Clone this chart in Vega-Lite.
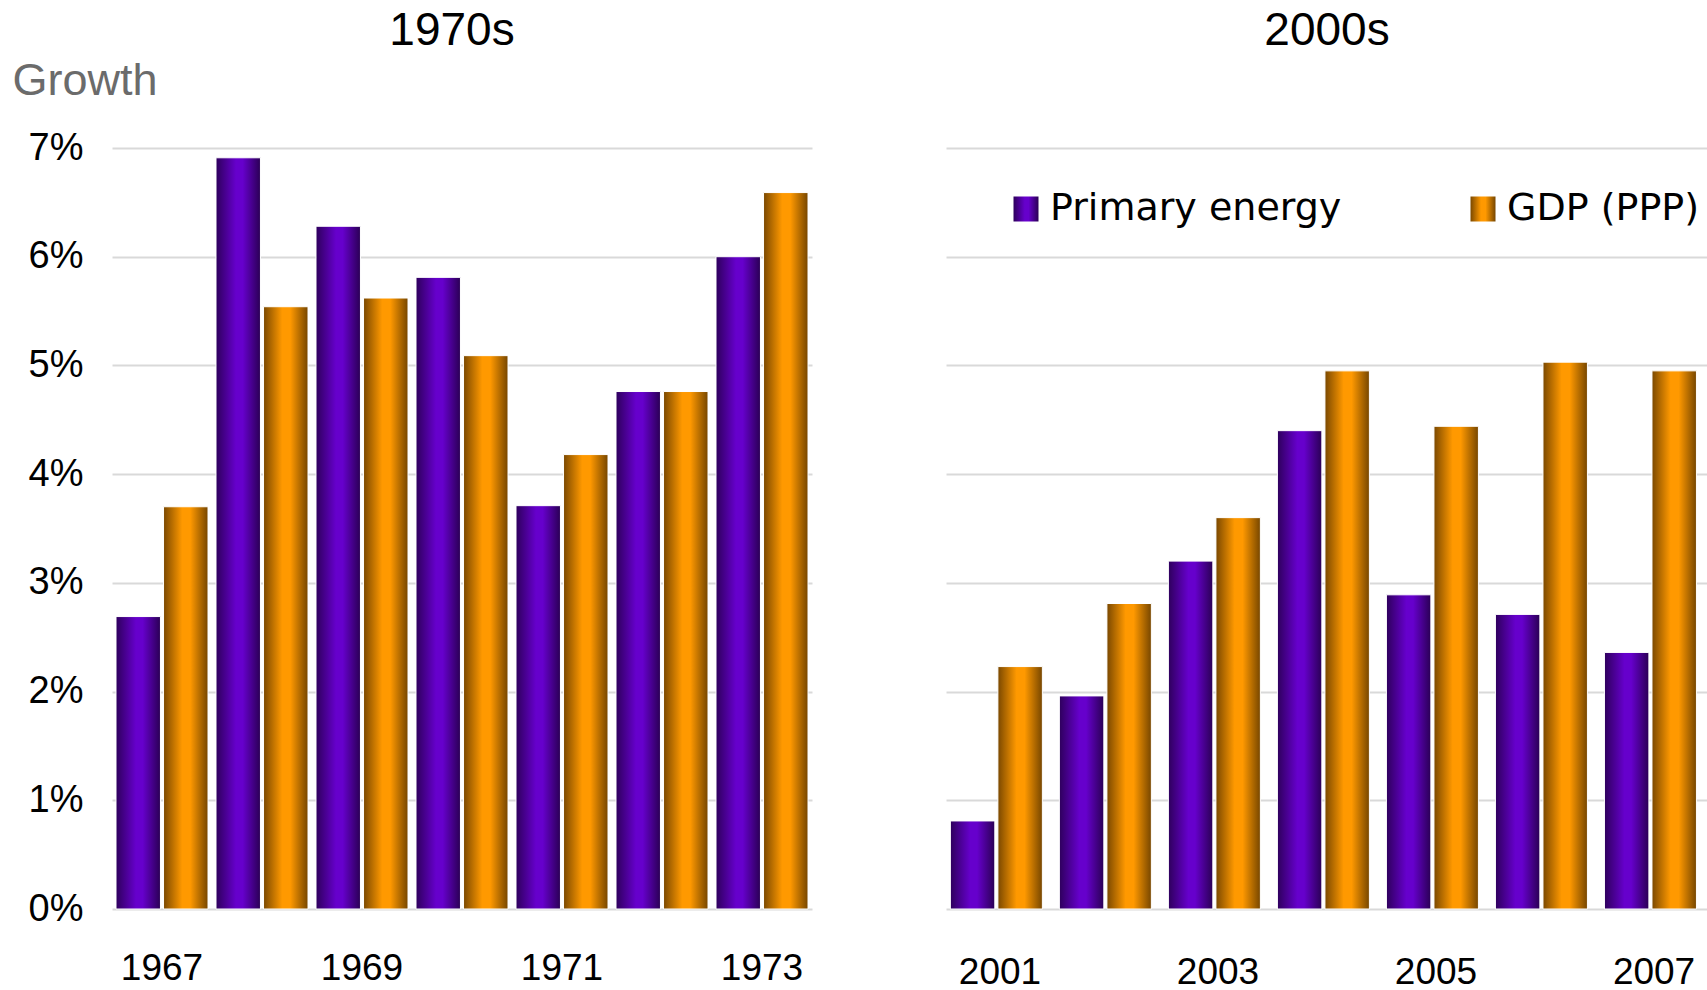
{
  "$schema": "https://vega.github.io/schema/vega-lite/v6.json",
  "autosize": {"type": "pad"},
  "padding": {"left": 12, "top": 8, "right": 0, "bottom": 0},
  "background": "white",
  "config": {
    "font": "Liberation Sans",
    "view": {"stroke": null},
    "axis": {"domain": false, "ticks": false, "labelColor": "black", "labelFontSize": 37, "labelFont": "Liberation Sans"},
    "title": {"font": "Liberation Sans", "fontSize": 46, "fontWeight": "normal", "color": "black", "anchor": "middle"}
  },
  "resolve": {"scale": {"color": "independent"}, "legend": {"color": "independent"}},
  "spacing": 134,
  "hconcat": [
    {
      "title": {"text": "1970s", "offset": 3, "dx": -10},
      "width": 700,
      "height": 761,
      "data": {"values": [
        {"year": 1967, "series": "Primary energy", "growth": 2.69},
        {"year": 1967, "series": "GDP (PPP)", "growth": 3.70},
        {"year": 1968, "series": "Primary energy", "growth": 6.91},
        {"year": 1968, "series": "GDP (PPP)", "growth": 5.54},
        {"year": 1969, "series": "Primary energy", "growth": 6.28},
        {"year": 1969, "series": "GDP (PPP)", "growth": 5.62},
        {"year": 1970, "series": "Primary energy", "growth": 5.81},
        {"year": 1970, "series": "GDP (PPP)", "growth": 5.09},
        {"year": 1971, "series": "Primary energy", "growth": 3.71},
        {"year": 1971, "series": "GDP (PPP)", "growth": 4.18},
        {"year": 1972, "series": "Primary energy", "growth": 4.76},
        {"year": 1972, "series": "GDP (PPP)", "growth": 4.76},
        {"year": 1973, "series": "Primary energy", "growth": 6.00},
        {"year": 1973, "series": "GDP (PPP)", "growth": 6.59}
      ]},
      "mark": {"type": "bar", "stroke": "white", "strokeWidth": 1},
      "encoding": {
        "x": {"field": "year", "type": "ordinal",
          "scale": {"paddingInner": 0.08, "paddingOuter": 0.04},
          "axis": {"title": null, "values": [1967, 1969, 1971, 1973], "labelAngle": 0, "labelPadding": 41, "labelBaseline": "top"}},
        "xOffset": {"field": "series", "type": "nominal", "sort": ["Primary energy", "GDP (PPP)"], "scale": {"paddingInner": 0.065}},
        "y": {"field": "growth", "type": "quantitative",
          "scale": {"domain": [0, 7], "nice": false},
          "axis": {"title": "Growth", "titleAngle": 0, "titleAlign": "left", "titleBaseline": "alphabetic", "titleX": -100, "titleY": -54,
            "titleFont": "Liberation Sans", "titleFontSize": 45, "titleFontWeight": "normal", "titleColor": "#6b6b6b",
            "values": [0, 1, 2, 3, 4, 5, 6, 7], "labelExpr": "datum.value + '%'", "labelPadding": 29, "labelFontSize": 38,
            "grid": true, "gridColor": "#d9d9d9", "gridWidth": 2}},
        "color": {"field": "series", "type": "nominal",
          "scale": {"domain": ["Primary energy", "GDP (PPP)"], "range": [
            {"expr": "{gradient: 'linear', x1: 0, y1: 0, x2: 1, y2: 0, stops: [{offset: 0, color: '#2e005c'}, {offset: 0.45, color: '#6600cc'}, {offset: 0.6, color: '#6600cc'}, {offset: 1, color: '#2a0054'}]}"},
            {"expr": "{gradient: 'linear', x1: 0, y1: 0, x2: 1, y2: 0, stops: [{offset: 0, color: '#7a4800'}, {offset: 0.42, color: '#ff9900'}, {offset: 0.6, color: '#ff9900'}, {offset: 1, color: '#764600'}]}"}
          ]},
          "legend": null}
      }
    },
    {
      "title": {"text": "2000s", "offset": 93},
      "width": 762,
      "height": 761,
      "data": {"values": [
        {"year": 2001, "series": "Primary energy", "growth": 0.81},
        {"year": 2001, "series": "GDP (PPP)", "growth": 2.23},
        {"year": 2002, "series": "Primary energy", "growth": 1.96},
        {"year": 2002, "series": "GDP (PPP)", "growth": 2.81},
        {"year": 2003, "series": "Primary energy", "growth": 3.20},
        {"year": 2003, "series": "GDP (PPP)", "growth": 3.60},
        {"year": 2004, "series": "Primary energy", "growth": 4.40},
        {"year": 2004, "series": "GDP (PPP)", "growth": 4.95},
        {"year": 2005, "series": "Primary energy", "growth": 2.89},
        {"year": 2005, "series": "GDP (PPP)", "growth": 4.44},
        {"year": 2006, "series": "Primary energy", "growth": 2.71},
        {"year": 2006, "series": "GDP (PPP)", "growth": 5.03},
        {"year": 2007, "series": "Primary energy", "growth": 2.36},
        {"year": 2007, "series": "GDP (PPP)", "growth": 4.95}
      ]},
      "mark": {"type": "bar", "stroke": "white", "strokeWidth": 1},
      "encoding": {
        "x": {"field": "year", "type": "ordinal",
          "scale": {"paddingInner": 0.09, "paddingOuter": 0.04},
          "axis": {"title": null, "values": [2001, 2003, 2005, 2007], "labelAngle": 0, "labelPadding": 45, "labelBaseline": "top"}},
        "xOffset": {"field": "series", "type": "nominal", "sort": ["Primary energy", "GDP (PPP)"], "scale": {"paddingInner": 0.06}},
        "y": {"field": "growth", "type": "quantitative",
          "scale": {"domain": [0, 7], "nice": false},
          "axis": {"title": null, "labels": false, "values": [0, 1, 2, 3, 4, 5, 6, 7],
            "grid": true, "gridColor": "#d9d9d9", "gridWidth": 2}},
        "color": {"field": "series", "type": "nominal",
          "scale": {"domain": ["Primary energy", "GDP (PPP)"], "range": [
            {"expr": "{gradient: 'linear', x1: 0, y1: 0, x2: 1, y2: 0, stops: [{offset: 0, color: '#2e005c'}, {offset: 0.45, color: '#6600cc'}, {offset: 0.6, color: '#6600cc'}, {offset: 1, color: '#2a0054'}]}"},
            {"expr": "{gradient: 'linear', x1: 0, y1: 0, x2: 1, y2: 0, stops: [{offset: 0, color: '#7a4800'}, {offset: 0.42, color: '#ff9900'}, {offset: 0.6, color: '#ff9900'}, {offset: 1, color: '#764600'}]}"}
          ]},
          "legend": {"orient": "none", "legendX": 61, "legendY": 42, "direction": "horizontal", "title": null,
            "symbolType": "square", "symbolSize": 625, "symbolStrokeWidth": 0,
            "labelFont": "DejaVu Sans", "labelFontSize": 38, "labelColor": "black", "labelOffset": 5,
            "columnPadding": 122, "labelLimit": 500}}
      }
    }
  ]
}
